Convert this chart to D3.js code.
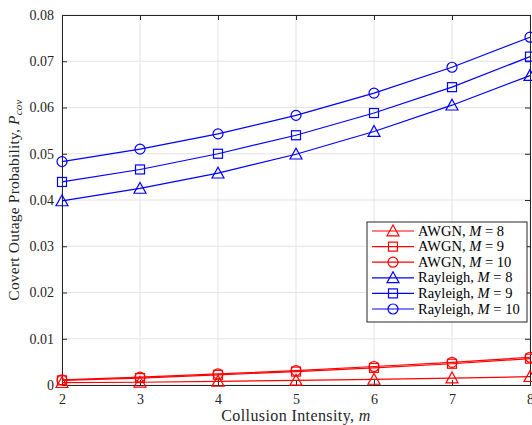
<!DOCTYPE html>
<html>
<head>
<meta charset="utf-8">
<script src="https://cdn.jsdelivr.net/npm/d3@7"></script>
<style>
	body { margin: 0; background: #fff; }
	svg { display: block; font-family: "Liberation Serif", "DejaVu Serif", serif; }
</style>
</head>
<body>
<div id="main"></div>
<script>
// data
let m_values = [2, 3, 4, 5, 6, 7, 8];
let x_ticks = [2, 3, 4, 5, 6, 7, 8];
let y_ticks = [0, 0.01, 0.02, 0.03, 0.04, 0.05, 0.06, 0.07, 0.08];
let awgn_8 = [0.0005, 0.0006, 0.0008, 0.0010, 0.0012, 0.0015, 0.0018];
let awgn_9 = [0.0010, 0.0015, 0.0022, 0.0029, 0.0037, 0.0046, 0.0057];
let awgn_10 = [0.0011, 0.0017, 0.0024, 0.0031, 0.0040, 0.0049, 0.0060];
let rayleigh_8 = [0.0398, 0.0425, 0.0458, 0.0499, 0.0548, 0.0605, 0.0669];
let rayleigh_9 = [0.0439, 0.0466, 0.0500, 0.0540, 0.0588, 0.0644, 0.0710];
let rayleigh_10 = [0.0483, 0.0510, 0.0543, 0.0583, 0.0631, 0.0687, 0.0752];

let series = [
	{name: "AWGN", M: 8, values: awgn_8, color: "#ff0000", marker: "triangle"},
	{name: "AWGN", M: 9, values: awgn_9, color: "#ff0000", marker: "square"},
	{name: "AWGN", M: 10, values: awgn_10, color: "#ff0000", marker: "circle"},
	{name: "Rayleigh", M: 8, values: rayleigh_8, color: "#0000ff", marker: "triangle"},
	{name: "Rayleigh", M: 9, values: rayleigh_9, color: "#0000ff", marker: "square"},
	{name: "Rayleigh", M: 10, values: rayleigh_10, color: "#0000ff", marker: "circle"}
];

let width = 532, height = 425;
let plot_left = 62, plot_right = 530, plot_top = 15, plot_bottom = 385;

let svg = d3.select("#main").append("svg")
	.attr("width", width).attr("height", height);

let x = d3.scaleLinear().domain([2, 8]).range([plot_left, plot_right]);
let y = d3.scaleLinear().domain([0, 0.08]).range([plot_bottom, plot_top]);

// grid
let grid = svg.append("g").attr("stroke", "#e3e3e3").attr("stroke-width", 1);
grid.selectAll(".gx").data(x_ticks).enter().append("line")
	.attr("x1", d => x(d)).attr("x2", d => x(d))
	.attr("y1", plot_top).attr("y2", plot_bottom);
grid.selectAll(".gy").data(y_ticks).enter().append("line")
	.attr("x1", plot_left).attr("x2", plot_right)
	.attr("y1", d => y(d)).attr("y2", d => y(d));

// axes (ticks inside, box on)
let tick_len = 5;
let axis_color = "#262626";
let xAxis = svg.append("g").attr("transform", "translate(0," + plot_bottom + ")")
	.call(d3.axisBottom(x).tickValues(x_ticks).tickSize(-tick_len).tickPadding(9).tickFormat(d3.format("d")));
let xAxisTop = svg.append("g").attr("transform", "translate(0," + plot_top + ")")
	.call(d3.axisTop(x).tickValues(x_ticks).tickSize(-tick_len).tickFormat(""));
let yAxis = svg.append("g").attr("transform", "translate(" + plot_left + ",0)")
	.call(d3.axisLeft(y).tickValues(y_ticks).tickSize(-tick_len).tickPadding(8)
		.tickFormat(d => d === 0 ? "0" : d3.format(".2f")(d)));
let yAxisRight = svg.append("g").attr("transform", "translate(" + plot_right + ",0)")
	.call(d3.axisRight(y).tickValues(y_ticks).tickSize(-tick_len).tickFormat(""));

[xAxis, xAxisTop, yAxis, yAxisRight].forEach(function (a) {
	a.select(".domain").attr("stroke", axis_color).attr("stroke-width", 1);
	a.selectAll(".tick line").attr("stroke", axis_color);
	a.selectAll(".tick text").attr("fill", axis_color)
		.style("font-family", "'Liberation Serif', serif").style("font-size", "14px");
});

// marker drawing
function draw_marker(g, type, cx, cy, color) {
	if (type == "circle") {
		g.append("circle").attr("cx", cx).attr("cy", cy).attr("r", 5)
			.attr("fill", "none").attr("stroke", color).attr("stroke-width", 1.2);
	} else if (type == "square") {
		g.append("rect").attr("x", cx - 4.5).attr("y", cy - 4.5)
			.attr("width", 9).attr("height", 9)
			.attr("fill", "none").attr("stroke", color).attr("stroke-width", 1.2);
	} else {
		let s = 6;
		g.append("path")
			.attr("d", "M" + cx + "," + (cy - s) + "L" + (cx + s) + "," + (cy + s * 0.8) + "L" + (cx - s) + "," + (cy + s * 0.8) + "Z")
			.attr("fill", "none").attr("stroke", color).attr("stroke-width", 1.2);
	}
}

let line = d3.line().x((d, i) => x(m_values[i])).y(d => y(d));
let plot = svg.append("g");
series.forEach(function (s) {
	plot.append("path").datum(s.values)
		.attr("d", line).attr("fill", "none")
		.attr("stroke", s.color).attr("stroke-width", 1.2);
	s.values.forEach(function (v, i) {
		draw_marker(plot, s.marker, x(m_values[i]), y(v), s.color);
	});
});

// axis labels
svg.append("text")
	.attr("x", (plot_left + plot_right) / 2).attr("y", 421)
	.attr("text-anchor", "middle").attr("fill", axis_color)
	.style("font-size", "16px").style("letter-spacing", "0.4px")
	.html("Collusion Intensity, <tspan font-style='italic'>m</tspan>");

let ylab = svg.append("text")
	.attr("transform", "translate(19," + ((plot_top + plot_bottom) / 2) + ") rotate(-90)")
	.attr("text-anchor", "middle").attr("fill", axis_color)
	.style("font-size", "15.5px").style("letter-spacing", "0.2px");
ylab.append("tspan").text("Covert Outage Probability, ");
ylab.append("tspan").attr("font-style", "italic").text("P");
ylab.append("tspan").attr("font-style", "italic").attr("font-size", "11px").attr("dy", 3).text("cov");

// legend
let lg = svg.append("g");
let lg_x = 367, lg_y = 222, lg_w = 160, lg_h = 100;
lg.append("rect").attr("x", lg_x).attr("y", lg_y).attr("width", lg_w).attr("height", lg_h)
	.attr("fill", "#fff").attr("stroke", axis_color).attr("stroke-width", 1);
series.forEach(function (s, i) {
	let ry = lg_y + 9 + i * 15.6;
	lg.append("line").attr("x1", lg_x + 5).attr("x2", lg_x + 47)
		.attr("y1", ry).attr("y2", ry)
		.attr("stroke", s.color).attr("stroke-width", 1.2);
	draw_marker(lg, s.marker, lg_x + 26, ry, s.color);
	let t = lg.append("text").attr("x", lg_x + 51).attr("y", ry + 4.5)
		.attr("fill", "#000").style("font-size", "14.5px");
	t.append("tspan").text(s.name + ", ");
	t.append("tspan").attr("font-style", "italic").text("M");
	t.append("tspan").text(" = " + s.M);
});
</script>
</body>
</html>
